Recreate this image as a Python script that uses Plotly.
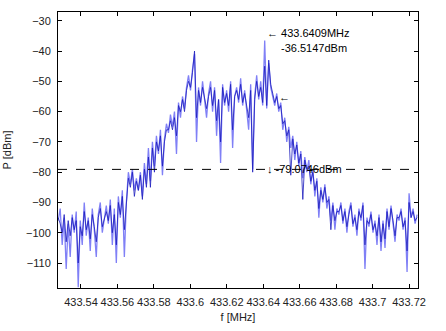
import plotly.graph_objects as go

# Frequency sweep grid (MHz)
f_start = 433.5275
f_step = 0.0011
n_pts = 180

# Light-blue trace (dBm)
light_dbm = [
    -96, -92, -104, -95, -112,
    -97, -108, -94, -100, -93,
    -118, -96, -104, -90, -101,
    -95, -106, -92, -99, -108,
    -94, -90, -100, -96, -91,
    -97, -89, -104, -92, -110,
    -88, -95, -86, -108, -90,
    -80, -84, -79, -86, -82,
    -86, -80, -88, -77, -84,
    -72, -83, -70, -78, -68,
    -74, -66, -81, -69, -64,
    -67, -61, -65, -60, -74,
    -57, -62, -55, -59, -52,
    -48, -53, -46, -41, -70,
    -52, -58, -50, -56, -62,
    -54, -50, -60, -52, -68,
    -56, -77, -51, -58, -53,
    -60, -50, -72, -55, -52,
    -57, -49, -58, -53, -60,
    -66, -51, -79, -55, -48,
    -56, -50, -58, -36.5147, -59,
    -44, -52, -55, -58, -54,
    -60, -57, -66, -62, -70,
    -65, -72, -68, -76, -70,
    -78, -73, -82, -75, -80,
    -76, -84, -79, -88, -82,
    -95, -85, -90, -84, -92,
    -88, -96, -90, -99, -92,
    -94, -90, -97, -92, -100,
    -93, -90, -98, -94, -101,
    -92, -96, -90, -112, -95,
    -98, -93, -100, -96, -104,
    -94, -106, -96, -105, -92,
    -99, -91, -97, -103, -94,
    -96, -92, -99, -95, -113,
    -87, -95, -92, -97, -94,
]

# Dark-blue trace (dBm)
dark_dbm = [
    -95, -97, -100, -94, -103,
    -96, -101, -95, -99, -96,
    -110, -98, -101, -93, -99,
    -96, -102, -94, -98, -103,
    -95, -92, -98, -95, -93,
    -96, -91, -100, -94, -104,
    -90, -94, -88, -99, -89,
    -82, -85, -80, -88, -83,
    -86, -81, -89, -79, -85,
    -75, -85, -72, -80, -70,
    -73, -68, -78, -70, -66,
    -66, -63, -66, -62, -68,
    -58, -60, -56, -60, -53,
    -50, -52, -47, -40, -62,
    -53, -57, -52, -55, -59,
    -55, -52, -58, -53, -63,
    -56, -70, -52, -57, -54,
    -58, -51, -66, -55, -53,
    -56, -51, -57, -54, -58,
    -62, -53, -80, -56, -50,
    -55, -52, -57, -45, -58,
    -43, -51, -54, -57, -55,
    -59, -58, -64, -63, -68,
    -66, -81, -69, -74, -71,
    -77, -74, -89, -76, -79,
    -78, -83, -80, -86, -83,
    -92, -86, -89, -85, -90,
    -89, -99, -91, -96, -93,
    -93, -91, -96, -93, -98,
    -94, -91, -97, -95, -99,
    -93, -95, -91, -104, -96,
    -97, -94, -99, -97, -101,
    -95, -103, -97, -102, -93,
    -98, -92, -96, -101, -95,
    -95, -93, -98, -96, -106,
    -90, -95, -93, -96, -95,
]

freq = [f_start + i * f_step for i in range(n_pts)]

peak_f = 433.6409
peak_dbm = -36.5147
level_dbm = -79.0746

x_ticks = [433.54, 433.56, 433.58, 433.6, 433.62, 433.64, 433.66, 433.68, 433.7, 433.72]
x_ticklabels = ["433.54", "433.56", "433.58", "433.6", "433.62", "433.64", "433.66", "433.68", "433.7", "433.72"]
y_ticks = [-30, -40, -50, -60, -70, -80, -90, -100, -110]

FONT = "Arial, Liberation Sans, sans-serif"

fig = go.Figure()
fig.add_trace(go.Scatter(x=freq, y=light_dbm, mode="lines",
                         line=dict(color="#8080f6", width=1.3), showlegend=False))
fig.add_trace(go.Scatter(x=freq, y=dark_dbm, mode="lines",
                         line=dict(color="#1c1cbc", width=0.8), showlegend=False))

fig.add_shape(type="line", xref="paper", x0=0, x1=1, yref="y", y0=level_dbm, y1=level_dbm,
              line=dict(color="black", width=1, dash="dash"))

ann_font = dict(family=FONT, size=11, color="black")
fig.add_annotation(x=peak_f, y=-33.9, xref="x", yref="y", text="\u2190 433.6409MHz",
                   showarrow=False, xanchor="left", yanchor="middle", font=ann_font, xshift=0)
fig.add_annotation(x=peak_f, y=-38.9, xref="x", yref="y", text="-36.5147dBm",
                   showarrow=False, xanchor="left", yanchor="middle", font=ann_font, xshift=14)
fig.add_annotation(x=433.6475, y=-55.2, xref="x", yref="y", text="\u2190",
                   showarrow=False, xanchor="left", yanchor="middle", font=ann_font)
fig.add_annotation(x=433.6412, y=level_dbm, xref="x", yref="y", text="\u2193 -79.0746dBm",
                   showarrow=False, xanchor="left", yanchor="middle", font=ann_font)

axis_common = dict(showline=True, linecolor="black", linewidth=1, mirror="ticks",
                   ticks="inside", ticklen=4, tickcolor="black", showgrid=False,
                   zeroline=False, automargin=False,
                   tickfont=dict(family=FONT, size=11, color="#222"))

fig.update_xaxes(range=[433.5274, 433.7249], tickvals=x_ticks, ticktext=x_ticklabels,
                 ticklabelstandoff=4,
                 title=dict(text="f [MHz]", font=dict(family=FONT, size=11, color="#222"), standoff=6),
                 **axis_common)
fig.update_yaxes(range=[-118.25, -27.1], tickvals=y_ticks, ticklabelstandoff=4,
                 title=dict(text="P [dBm]", font=dict(family=FONT, size=11, color="#222"), standoff=12),
                 **axis_common)

fig.update_layout(width=446, height=331, margin=dict(l=58, r=28, t=12, b=43),
                  paper_bgcolor="white", plot_bgcolor="white", font=dict(family=FONT))

fig.write_html("out.html", config={"displayModeBar": False},
               post_script="document.body.style.margin='0px';")
